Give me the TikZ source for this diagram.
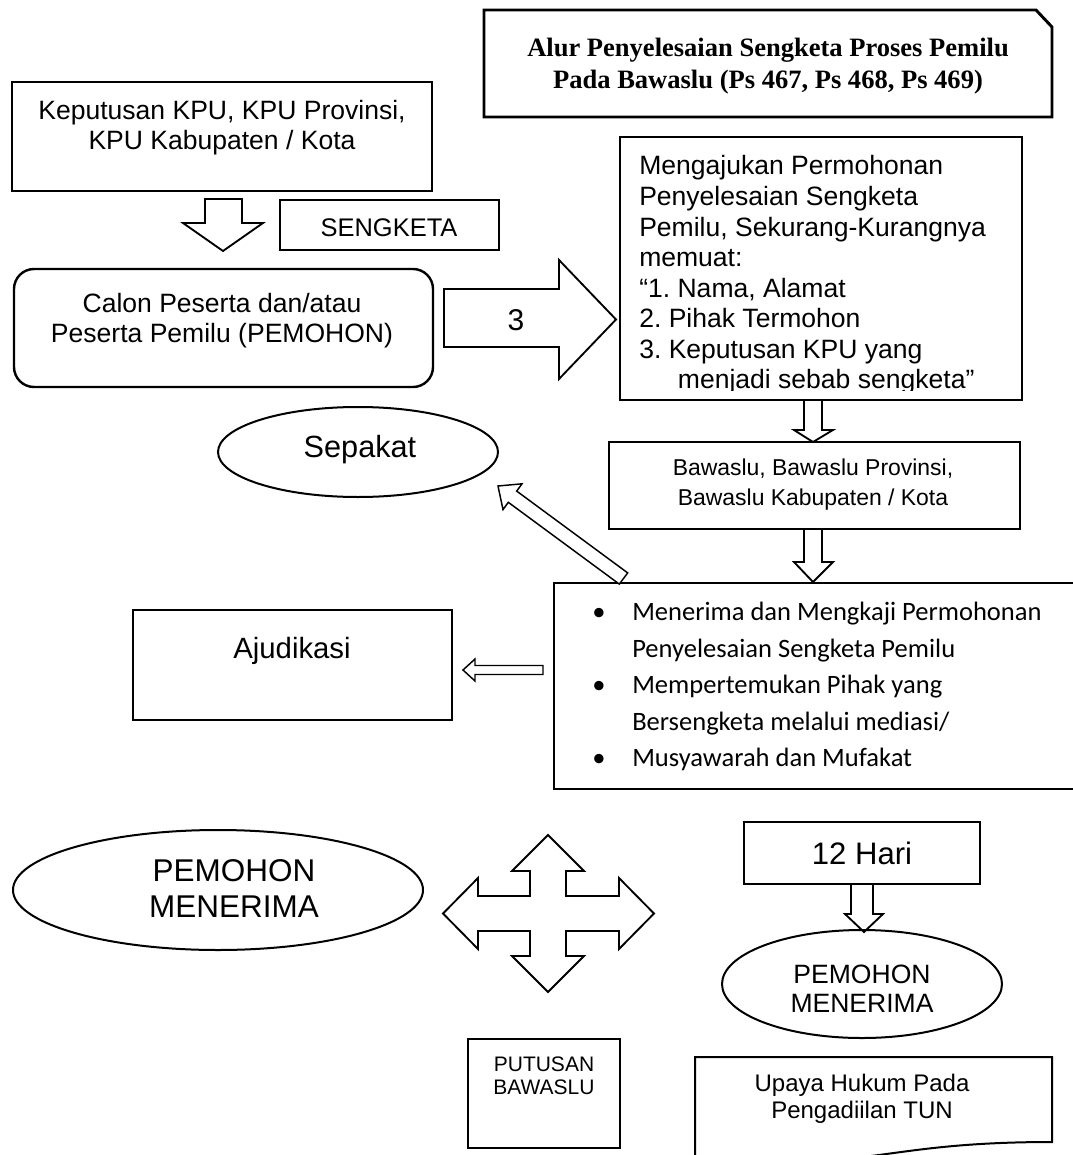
\documentclass[tikz,border=0pt]{standalone}
\usepackage{fontspec}
\setmainfont{Liberation Sans}
\newfontfamily\timesfont{Liberation Serif}
\newfontfamily\califont{Carlito}
\usetikzlibrary{shapes.geometric,fit}
\begin{document}
\frenchspacing
\begin{tikzpicture}[x=0.75pt,y=-0.75pt,
  boxthick/.style={draw=black, line width=1.5pt, inner sep=0pt, outer sep=0pt},
  boxthin/.style={draw=black, line width=0.8pt, inner sep=0pt, outer sep=0pt},
  blockarrow/.style={draw=black, fill=white, line width=1.4pt, line join=miter},
  thinarrow/.style={draw=black, fill=white, line width=1.1pt, line join=miter},
  ell/.style={ellipse, draw=black, line width=1.5pt, inner sep=0pt},
  lbl/.style={inner sep=0pt, align=center}
]
\useasboundingbox (0,0) rectangle (1072,1155);
\fill[white] (0,0) rectangle (1072,1155);

% Title box with cut corner
\draw[line width=2.2pt, line join=miter] (484,10) -- (1036,10) -- (1052,27) -- (1052,117) -- (484,117) -- cycle;
\node[lbl, font=\timesfont\bfseries\fontsize{19.9pt}{24pt}\selectfont] (title) at (768,66)
  {Alur Penyelesaian Sengketa Proses Pemilu\\Pada Bawaslu (Ps 467, Ps 468, Ps 469)};

% Keputusan box
\node[boxthick, line width=1.8pt, fit={(12,82)(432,191)}] (kep) {};
\node[lbl, font=\fontsize{19.9pt}{22.5pt}\selectfont] (keptext) at (222,128)
  {Keputusan KPU, KPU Provinsi,\\KPU Kabupaten / Kota};

% Down arrow 1
\draw[blockarrow] (205,199) -- (242,199) -- (242,223) -- (263,223) -- (223,251) -- (183,223) -- (205,223) -- cycle;

% SENGKETA box
\node[boxthick, fit={(280,200)(499,250)}] (sengbox) {};
\node[lbl, font=\fontsize{19.1pt}{22pt}\selectfont] (sengtext) at (389,228) {SENGKETA};

% Calon rounded box
\draw[line width=1.8pt, rounded corners=15pt] (14,269) rectangle (433,387);
\node[fit={(14,269)(433,387)}, inner sep=0pt] (calon) {};
\node[lbl, font=\fontsize{19.9pt}{22.5pt}\selectfont] (calontext) at (222,321)
  {Calon Peserta dan/atau\\Peserta Pemilu (PEMOHON)};

% Big arrow "3"
\draw[blockarrow] (444,289) -- (559,289) -- (559,260) -- (616,319.5) -- (559,379) -- (559,347) -- (444,347) -- cycle;
\node[lbl, font=\fontsize{22.5pt}{26pt}\selectfont] (three) at (516,320) {3};

% Mengajukan box
\node[boxthin, line width=1pt, fit={(620,137)(1022,400)}] (req) {};
\begin{scope}
\clip (620,137) rectangle (1022,390);
\node[anchor=north west, inner sep=0pt, align=left, font=\fontsize{19.9pt}{22.9pt}\selectfont] (reqtext) at (639,155.5)
  {Mengajukan Permohonan\\Penyelesaian Sengketa\\Pemilu, Sekurang-Kurangnya\\memuat:\\“1. Nama, Alamat\\2. Pihak Termohon\\3. Keputusan KPU yang\\\hspace*{29pt}menjadi sebab sengketa”};
\end{scope}

% Down arrow 2
\draw[blockarrow] (804,400) -- (822,400) -- (822,430) -- (833,430) -- (813,442) -- (794,430) -- (804,430) -- cycle;

% Sepakat ellipse
\node[ell, minimum width=280*0.75pt, minimum height=90*0.75pt] (sepakat) at (358,452) {};
\node[lbl, font=\fontsize{23pt}{26pt}\selectfont] (septext) at (360,450) {Sepakat};

% Bawaslu box
\node[boxthick, fit={(609,442)(1020,529)}] (baw) {};
\node[lbl, font=\fontsize{17.2pt}{22.5pt}\selectfont] (bawtext) at (813,485)
  {Bawaslu, Bawaslu Provinsi,\\Bawaslu Kabupaten / Kota};

% Down arrow 3
\draw[blockarrow] (804,529) -- (822,529) -- (822,562) -- (833,562) -- (813,582) -- (794,562) -- (804,562) -- cycle;

% Bullets box (right side runs past the picture edge)
\node[boxthin, fit={(554,583)(1076,789)}] (bul) {};
\node[anchor=north west, inner sep=0pt, align=left, font=\califont\fontsize{19.9pt}{27.4pt}\selectfont] (bultext) at (592,602)
  {\makebox[30pt][l]{•}Menerima dan Mengkaji Permohonan\\
   \makebox[30pt][l]{}Penyelesaian Sengketa Pemilu\\
   \makebox[30pt][l]{•}Mempertemukan Pihak yang\\
   \makebox[30pt][l]{}Bersengketa melalui mediasi/\\
   \makebox[30pt][l]{•}Musyawarah dan Mufakat};

% Diagonal arrow to Sepakat
\draw[thinarrow] (498,486) -- (522,483.8) -- (516.7,491.1) -- (627.7,572.9) -- (619.3,584.1) -- (508.3,502.3) -- (503,509.6) -- cycle;

% Ajudikasi box
\node[boxthick, fit={(133,610)(452,720)}] (aju) {};
\node[lbl, font=\fontsize{22pt}{26pt}\selectfont] (ajutext) at (292,651) {Ajudikasi};

% Left arrow
\draw[thinarrow] (463,670) -- (475,659) -- (475,665.5) -- (543,665.5) -- (543,674.5) -- (475,674.5) -- (475,681) -- cycle;

% Left ellipse
\node[ell, minimum width=410*0.75pt, minimum height=120*0.75pt] (pemL) at (218,890) {};
\node[lbl, font=\fontsize{23.6pt}{27pt}\selectfont] (pemLtext) at (234,889) {PEMOHON\\MENERIMA};

% Four-way arrow
\draw[blockarrow] (548,835) -- (584,871) -- (566,871) -- (566,896) -- (619,896) -- (619,878) -- (654,913.5)
  -- (619,949) -- (619,931) -- (566,931) -- (566,956) -- (584,956) -- (548,992) -- (512,956) -- (530,956)
  -- (530,931) -- (478,931) -- (478,949) -- (443,913.5) -- (478,878) -- (478,896) -- (530,896) -- (530,871)
  -- (512,871) -- cycle;

% 12 Hari box
\node[boxthick, fit={(744,822)(980,884)}] (hari) {};
\node[lbl, font=\fontsize{23.3pt}{26pt}\selectfont] (haritext) at (862,853) {12 Hari};

% Down arrow 4
\draw[blockarrow] (851,884) -- (873,884) -- (873,914) -- (883,914) -- (864,932) -- (845,914) -- (851,914) -- cycle;

% Right ellipse
\node[ell, minimum width=280*0.75pt, minimum height=108*0.75pt] (pemR) at (862,984) {};
\node[lbl, font=\fontsize{19.9pt}{21.75pt}\selectfont] (pemRtext) at (862,989) {PEMOHON\\MENERIMA};

% PUTUSAN box
\node[boxthick, fit={(468,1039)(620,1148)}] (put) {};
\node[lbl, font=\fontsize{15.75pt}{17.25pt}\selectfont] (puttext) at (544,1075.5) {PUTUSAN\\BAWASLU};

% Upaya document box
\draw[line width=1.5pt, line join=miter] (695,1057) -- (1052,1057) -- (1052,1142)
  .. controls (873,1142) and (873,1174) .. (695,1156) -- cycle;
\node[fit={(695,1057)(1052,1142)}, inner sep=0pt] (upaya) {};
\node[lbl, font=\fontsize{18pt}{20.25pt}\selectfont] (upayatext) at (862,1099) {Upaya Hukum Pada\\Pengadiilan TUN};
\end{tikzpicture}
\end{document}
